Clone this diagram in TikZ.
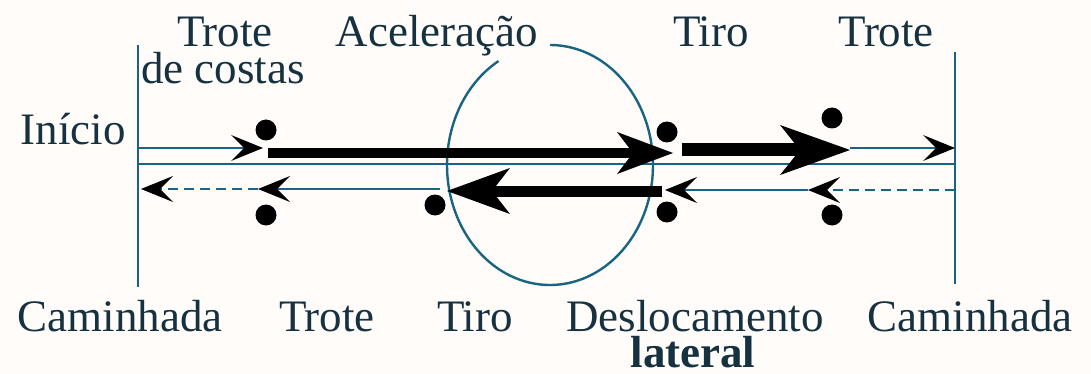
\documentclass[tikz,border=0pt]{standalone}
\usepackage{fontspec}
\setmainfont{Liberation Serif}
\usetikzlibrary{arrows.meta}
\definecolor{ln}{RGB}{25,100,130}
\definecolor{tx}{RGB}{22,50,65}
\definecolor{bg}{RGB}{255,252,250}
\begin{document}
\begin{tikzpicture}[x=1pt,y=-1pt,
  lbl/.style={anchor=base, text=tx, inner sep=0pt, text depth=0pt, font=\fontsize{45}{49}\selectfont},
  dot/.style={circle, fill=black, minimum size=21pt, inner sep=0pt},
  rail/.style={draw=ln, line width=2.6pt},
  thinarr/.style={draw=ln, line width=2.4pt, -{Stealth[length=32pt, width=26pt, inset=13pt, color=black, line width=0pt]}},
  dasharr/.style={thinarr, dash pattern=on 10pt off 6pt},
  thickA/.style={draw=black, line width=10pt, -{Stealth[length=56pt, width=42pt, inset=16pt, line width=0pt]}},
  thickB/.style={draw=black, line width=13pt, -{Stealth[length=70pt, width=50pt, inset=20pt, line width=0pt]}},
  thickC/.style={draw=black, line width=11pt, -{Stealth[length=63pt, width=46pt, inset=18pt, line width=0pt]}}
]
\fill[bg] (0,0) rectangle (1091,374);
\useasboundingbox (0,0) rectangle (1091,374);

% ellipse (acceleration zone), open at the top left
\draw[ln, line width=2.4pt] plot[domain=120:450, samples=120, smooth] ({550+103*cos(\x)}, {165-120*sin(\x)});

% rails
\coordinate (L1) at (138,45);
\coordinate (L2) at (138,287);
\coordinate (R1) at (955,52);
\coordinate (R2) at (955,284);
\coordinate (S1) at (138,164);
\coordinate (S2) at (955,164);
\draw[rail] (L1) -- (L2);
\draw[rail] (R1) -- (R2);
\draw[rail] (S1) -- (S2);

% dots
\node[dot] (d1) at (266,130) {};
\node[dot] (d2) at (667,132) {};
\node[dot] (d3) at (832,118) {};
\node[dot] (d4) at (832,215) {};
\node[dot] (d5) at (667,212) {};
\node[dot] (d6) at (435,205) {};
\node[dot] (d7) at (266,215) {};

% top row coordinates
\coordinate (t0) at (138,148);
\coordinate (t1) at (263,148);
\coordinate (t2) at (268,153);
\coordinate (t3) at (673,153);
\coordinate (t4) at (682,150);
\coordinate (t5) at (850,150);
\coordinate (t6) at (850,148);
\coordinate (t7) at (955,148);
\draw[thinarr] (t0) -- (t1);
\draw[thickA] (t2) -- (t3);
\draw[thickB] (t4) -- (t5);
\draw[thinarr] (t6) -- (t7);

% bottom row coordinates
\coordinate (b0) at (955,190);
\coordinate (b1) at (808,190);
\coordinate (b2) at (665,190);
\coordinate (b3) at (662,191);
\coordinate (b4) at (447,191);
\coordinate (b5) at (440,189);
\coordinate (b6) at (258,189);
\coordinate (b7) at (141,189);
\draw[dasharr] (b0) -- (b1);
\draw[thinarr] (b1) -- (b2);
\draw[thickC] (b3) -- (b4);
\draw[thinarr] (b5) -- (b6);
\draw[dasharr] (b6) -- (b7);

% labels
\node[lbl] (trote1) at (225,47) {Trote};
\node[lbl] (costas) at (223,84) {de costas};
\node[lbl] (acel) at (437,47) {Aceleração};
\node[lbl] (tiro1) at (711,47) {Tiro};
\node[lbl] (trote2) at (886,47) {Trote};
\node[lbl] (inicio) at (73,145) {Início};
\node[lbl] (cam1) at (120,331) {Caminhada};
\node[lbl] (trote3) at (327,331) {Trote};
\node[lbl] (tiro2) at (475,331) {Tiro};
\node[lbl] (desl) at (695,331) {Deslocamento};
\node[lbl] (lat) at (693,367) {\bfseries lateral};
\node[lbl] (cam2) at (970,331) {Caminhada};
\end{tikzpicture}
\end{document}
